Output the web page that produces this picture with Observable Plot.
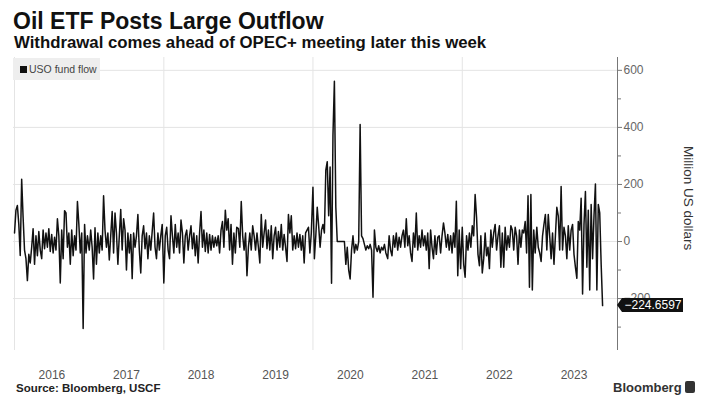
<!DOCTYPE html>
<html><head><meta charset="utf-8">
<script src="https://cdn.jsdelivr.net/npm/d3@7"></script>
<script src="https://cdn.jsdelivr.net/npm/@observablehq/plot@0.6"></script>
<style>
body{margin:0;background:#fff;font-family:"Liberation Sans",Arial,sans-serif;}
#wrap{position:relative;width:708px;height:397px;overflow:hidden;background:#fff}
#title{position:absolute;left:13px;top:10px;font-size:23px;font-weight:bold;color:#111;line-height:1;white-space:nowrap}
#subtitle{position:absolute;left:14px;top:35px;font-size:16.8px;font-weight:bold;color:#111;line-height:1;white-space:nowrap}
#chart{position:absolute;left:0;top:56px}
#legend{position:absolute;left:13px;top:58px;width:87px;height:22px;background:#eeeeee;font-size:10.5px;color:#444;line-height:22px;white-space:nowrap}
#legend .sw{display:inline-block;width:7px;height:7px;background:#111;margin:0 2px 0 7px;vertical-align:0px}
#ylabel{position:absolute;left:681px;top:146px;writing-mode:vertical-rl;font-size:13.5px;color:#333;white-space:nowrap}
#source{position:absolute;left:16px;top:383px;font-size:11.5px;font-weight:bold;color:#222;line-height:1;white-space:nowrap}
#brand{position:absolute;left:613px;top:381px;font-size:13px;font-weight:bold;color:#333;line-height:1;white-space:nowrap}
#brand .logo{display:inline-block;width:10px;height:12px;background:#333;border-radius:2px;vertical-align:-1px;margin-left:3px}
</style></head><body>
<div id="wrap">
  <div id="title">Oil ETF Posts Large Outflow</div>
  <div id="subtitle">Withdrawal comes ahead of OPEC+ meeting later this week</div>
  <div id="chart"></div>
  <div id="legend"><span class="sw"></span>USO fund flow</div>
  <div id="ylabel">Million US dollars</div>
  <div id="source">Source: Bloomberg, USCF</div>
  <div id="brand">Bloomberg<span class="logo"></span></div>
</div>
<script>
// Weekly USO fund flows (million US dollars)
const flows2016 = [30, 110, 126, 60, -49, 218, 85, -30, -60, -137, -45, -75, -20, 45, -80, 20, -50, 35, -30, -60, 40, -25, 30, -20, 45, -35, 25, -40, 15, -30, 80, 20, -145, 40, -60, 108, 100, -20, 30, -80, 40, -50, 20, -30, 140, 60, -40, 30, -305, 60, -40, 20];
const flows2017 = [-30, 40, -20, -131, 48, -80, 30, -40, 20, -30, 160, 40, -20, 30, -65, 20, 105, -40, 100, 30, -80, 20, 112, -30, 80, 40, -100, 30, -40, 25, -130, 30, -20, 20, 95, -30, -110, 20, 55, -25, 30, -60, 20, -30, 35, 100, -20, -60, 30, -30, 20, 60];
const flows2018 = [-145, 20, 50, -30, -60, 90, 20, -40, 60, -20, 30, -40, 75, 30, -75, 20, 40, -30, 20, 55, -25, 30, -50, 20, -75, 30, 105, -20, 40, -35, 30, -40, 25, -30, 20, -20, 15, -15, 20, -40, 40, 70, -20, 110, 40, 80, -30, 60, -80, 30, -40, 50];
const flows2019 = [45, -20, 140, 20, -30, 30, -120, -20, 30, -30, 55, 20, -30, 30, -20, -75, 95, -20, 30, 75, -25, 40, -30, 55, -60, 20, 50, -30, 35, -20, 60, -30, 25, -20, -70, 95, 30, 90, -30, 20, -25, 30, -20, 25, -30, 20, -75, 30, 40, 50, -40, 30];
const flows2020 = [190, -60, 20, 120, 55, -20, 40, 60, 30, 250, 280, 90, 261, -146, 372, 562, 120, 0, 0, 0, 0, 0, 0, -80, -20, -100, -131, -30, 20, -40, -10, -30, 0, 410, 20, 10, -10, -30, -15, -25, -10, -30, -195, 40, -20, -35, -15, -40, -20, -30, -10, -40];
const flows2021 = [-60, 20, -30, -50, 20, -20, 30, -30, 15, -20, 20, 40, -20, 80, -15, 20, -40, -70, 30, -20, 100, -30, 20, -20, 40, -15, 20, -30, 30, -95, 40, -20, -60, 20, -45, 15, 20, -40, 20, 65, 30, -20, 25, -30, 20, -40, 30, -20, 141, -120, 40, -95];
const flows2022 = [50, -80, -125, 20, -30, 30, -20, 55, 20, 165, 85, -45, -85, 20, -110, -60, 30, -50, -20, -95, 40, -20, 30, 60, -30, 20, 55, -90, 30, -90, 50, -30, 20, -20, 55, 40, -30, 50, 20, -80, 40, -20, 40, 30, 70, -40, 160, -160, 165, -170, 40, -40];
const flows2023 = [50, -20, -40, -70, 20, 60, 95, -30, 95, 20, -60, 30, -80, 20, 120, 90, -30, 193, -30, 50, 20, -60, 55, -30, 40, 60, -45, -90, -129, 70, 40, 152, -184, 60, 175, -90, 110, -170, 130, -60, 90, 202, -170, 130, 100, -80, -224.6597];

const years = [2016, 2017, 2018, 2019, 2020, 2021, 2022, 2023];
const flowsByYear = [flows2016, flows2017, flows2018, flows2019, flows2020, flows2021, flows2022, flows2023];

const yTicks = [-200, 0, 200, 400, 600];
const yMinor = [-300, -100, 100, 300, 500];
const gridYears = [2016, 2018, 2020, 2022];
const yearLabels = ["2016", "2017", "2018", "2019", "2020", "2021", "2022", "2023"];

const data = [];
years.forEach((yr, k) => {
  flowsByYear[k].forEach((v, i) => data.push({date: new Date(Date.UTC(yr, 0, 1 + 7 * i)), value: v}));
});
const last = data[data.length - 1];

const xStart = new Date(Date.UTC(2015, 11, 27));
const xEnd = new Date(Date.UTC(2024, 0, 31));

const chart = Plot.plot({
  width: 708, height: 326,
  marginTop: 1, marginBottom: 32, marginLeft: 13, marginRight: 91,
  x: {type: "utc", domain: [xStart, xEnd]},
  y: {domain: [-382, 645]},
  style: {fontFamily: "'Liberation Sans', Arial, sans-serif", fontSize: "12px", color: "#555", background: "transparent", overflow: "visible"},
  marks: [
    Plot.gridY({ticks: yTicks, stroke: "#e4e4e4", strokeOpacity: 1}),
    Plot.gridX({ticks: gridYears.map(y => new Date(Date.UTC(y, 0, 1))), stroke: "#e4e4e4", strokeOpacity: 1}),
    Plot.axisX({ticks: yearLabels.map(s => new Date(Date.UTC(+s, 6, 2))), tickSize: 0, tickPadding: 20, tickFormat: d => String(d.getUTCFullYear()), label: null, fill: "#555"}),
    Plot.axisY({ticks: yTicks, anchor: "right", tickSize: 4, tickPadding: 2, label: null, stroke: "#777", fill: "#666"}),
    Plot.axisY({ticks: yMinor, anchor: "right", tickSize: 3, tickFormat: () => "", label: null, stroke: "#777"}),
    Plot.ruleX([xEnd], {stroke: "#777", strokeWidth: 1}),
    Plot.lineY(data, {x: "date", y: "value", stroke: "#111", strokeWidth: 1.5})
  ]
});
document.getElementById("chart").appendChild(chart);

// value tag at the latest observation
const sx = chart.scale("x"), sy = chart.scale("y");
const tx = sx.apply(xEnd), ty = sy.apply(last.value);
const g = d3.select(chart).append("g").attr("transform", `translate(${tx},${ty})`);
g.append("path").attr("d", "M0,0 L5,-7 L66,-7 L66,7 L5,7 Z").attr("fill", "#111");
g.append("text").attr("x", 36).attr("y", 0).attr("dy", "0.35em").attr("text-anchor", "middle")
  .attr("fill", "#fff").attr("font-size", 12).attr("font-family", "'Liberation Sans', Arial, sans-serif")
  .text(d3.format(".4f")(last.value));
</script>
</body></html>
